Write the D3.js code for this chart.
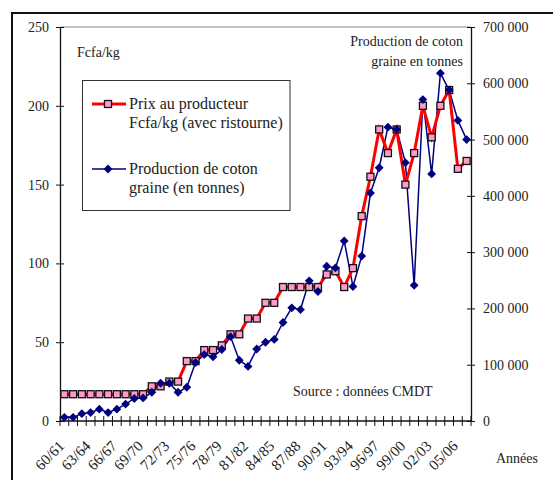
<!DOCTYPE html>
<html>
  <head>
    <title>Coton</title>
    <script src="https://d3js.org/d3.v7.min.js"></script>
    <style>
      body { margin: 0; background: white; }
      text { font-family: "Liberation Serif", "Times New Roman", serif; font-size: 14px; fill: #222; }
      .legend text { font-size: 16px; }
    </style>
  </head>
  <body>
    <svg id="main" width="553" height="480"></svg>
    <script>

      var years = ["60/61","61/62","62/63","63/64","64/65","65/66","66/67","67/68","68/69","69/70",
                   "70/71","71/72","72/73","73/74","74/75","75/76","76/77","77/78","78/79","79/80",
                   "80/81","81/82","82/83","83/84","84/85","85/86","86/87","87/88","88/89","89/90",
                   "90/91","91/92","92/93","93/94","94/95","95/96","96/97","97/98","98/99","99/00",
                   "00/01","01/02","02/03","03/04","04/05","05/06","06/07"];

      // prix au producteur, Fcfa/kg (avec ristourne)
      var prix = [17, 17, 17, 17, 17, 17, 17, 17, 17, 17,
                  22, 22, 25, 25, 38, 38, 45, 45, 48, 55,
                  55, 65, 65, 75, 75, 85, 85, 85, 85, 85,
                  93, 95, 85, 97, 130, 155, 185, 170, 185, 150,
                  170, 200, 180, 200, 210, 160, 165];

      // production de coton graine, tonnes
      var production = [6500, 6500, 13000, 15000, 21000, 15000, 21000, 30000, 40000, 41000,
                        51000, 67000, 67000, 51000, 60000, 104000, 118000, 114000, 127000, 150000,
                        108000, 97000, 128000, 140000, 145000, 175000, 201000, 198000, 249000, 230000,
                        275000, 272000, 320000, 239000, 293000, 405000, 450000, 522000, 518000, 459000,
                        241000, 571000, 439000, 618000, 588000, 534000, 500000];

      var leftTicks = [0, 50, 100, 150, 200, 250];
      var rightTicks = [0, 100000, 200000, 300000, 400000, 500000, 600000, 700000];

      var svg = d3.select("#main");
      var plotLeft = 60, plotRight = 471, plotTop = 27, plotBottom = 421;

      // cadre exterieur
      svg.append("rect")
        .attr("x", 12).attr("y", 13)
        .attr("width", 600).attr("height", 600)
        .attr("fill", "none")
        .attr("stroke", "#111")
        .attr("stroke-width", 2);

      var x = d3.scaleBand().domain(years).range([plotLeft, plotRight]);
      var yPrix = d3.scaleLinear().domain([0, 250]).range([plotBottom, plotTop]);
      var yProd = d3.scaleLinear().domain([0, 700000]).range([plotBottom, plotTop]);
      function cx(d, i) { return x(years[i]) + x.bandwidth() / 2; }

      // bord haut de la zone
      svg.append("line")
        .attr("x1", plotLeft).attr("x2", plotRight)
        .attr("y1", plotTop).attr("y2", plotTop)
        .attr("stroke", "#888").attr("stroke-width", 1);

      // axe gauche
      var gl = svg.append("g").attr("transform", "translate(" + plotLeft + ",0)")
        .call(d3.axisLeft(yPrix).tickValues(leftTicks).tickSize(0).tickPadding(11));
      gl.select(".domain").attr("stroke", "#111").attr("stroke-width", 1.3);
      gl.selectAll(".tick line").attr("x1", -4).attr("x2", 4).attr("stroke", "#111");
      gl.selectAll("text").style("font-size", "14px");

      // axe droit
      var gr = svg.append("g").attr("transform", "translate(" + plotRight + ",0)")
        .call(d3.axisRight(yProd).tickValues(rightTicks).tickSize(0).tickPadding(12)
          .tickFormat(function(d) { return d3.format(",")(d).replace(/,/g, " "); }));
      gr.select(".domain").attr("stroke", "#111").attr("stroke-width", 1.3);
      gr.selectAll(".tick line").attr("x1", -4).attr("x2", 4).attr("stroke", "#111");
      gr.selectAll("text").style("font-size", "14px");
      svg.selectAll(".tick text").style("font-family", "'Liberation Serif', serif").attr("fill", "#222");

      // axe des x
      svg.append("line")
        .attr("x1", plotLeft).attr("x2", plotRight)
        .attr("y1", plotBottom).attr("y2", plotBottom)
        .attr("stroke", "#111").attr("stroke-width", 1.3);
      var bounds = years.map(function(d) { return x(d); }).concat([plotRight]);
      svg.append("g").selectAll("line").data(bounds).enter().append("line")
        .attr("x1", function(d) { return d; }).attr("x2", function(d) { return d; })
        .attr("y1", plotBottom - 5).attr("y2", plotBottom + 5)
        .attr("stroke", "#111").attr("stroke-width", 1);
      svg.append("g").selectAll("text")
        .data(years.filter(function(d, i) { return i % 3 == 0; }))
        .enter().append("text")
        .attr("text-anchor", "end")
        .attr("transform", function(d) {
          return "translate(" + (x(d) + x.bandwidth() / 2 + 1) + "," + (plotBottom + 26) + ") rotate(-45)";
        })
        .style("font-size", "15px")
        .text(function(d) { return d; });

      svg.append("text").attr("x", 496).attr("y", 463).text("Années");
      svg.append("text").attr("x", 77).attr("y", 57).text("Fcfa/kg");
      svg.append("text").attr("x", 463).attr("y", 46).attr("text-anchor", "end").text("Production de coton");
      svg.append("text").attr("x", 463).attr("y", 66).attr("text-anchor", "end").text("graine en tonnes");
      svg.append("text").attr("x", 293).attr("y", 396).text("Source : données CMDT");

      // production
      var lineProd = d3.line().x(cx).y(function(d) { return yProd(d); });
      svg.append("path").datum(production)
        .attr("d", lineProd).attr("fill", "none")
        .attr("stroke", "#000080").attr("stroke-width", 1.5);

      // prix
      var linePrix = d3.line().x(cx).y(function(d) { return yPrix(d); });
      svg.append("path").datum(prix)
        .attr("d", linePrix).attr("fill", "none")
        .attr("stroke", "#ff0000").attr("stroke-width", 3);

      svg.append("g").selectAll("rect").data(prix).enter().append("rect")
        .attr("x", function(d, i) { return cx(d, i) - 3.5; })
        .attr("y", function(d) { return yPrix(d) - 3.5; })
        .attr("width", 7).attr("height", 7)
        .attr("fill", "#ff99cc").attr("stroke", "#111").attr("stroke-width", 1.3);

      var diamond = d3.symbol().type(d3.symbolDiamond2).size(50);
      svg.append("g").selectAll("path").data(production).enter().append("path")
        .attr("d", diamond)
        .attr("transform", function(d, i) { return "translate(" + cx(d, i) + "," + yProd(d) + ")"; })
        .attr("fill", "#000080");

      // legende
      var lg = svg.append("g").attr("class", "legend");
      lg.append("rect")
        .attr("x", 82.5).attr("y", 80.5).attr("width", 207.5).attr("height", 130)
        .attr("fill", "white").attr("stroke", "#333").attr("stroke-width", 1);
      lg.append("line").attr("x1", 92).attr("x2", 126).attr("y1", 104).attr("y2", 104)
        .attr("stroke", "#ff0000").attr("stroke-width", 3);
      lg.append("rect").attr("x", 104.5).attr("y", 100.5).attr("width", 7).attr("height", 7)
        .attr("fill", "#ff99cc").attr("stroke", "#111").attr("stroke-width", 1.3);
      lg.append("text").attr("x", 129).attr("y", 109).text("Prix au producteur");
      lg.append("text").attr("x", 129).attr("y", 128).text("Fcfa/kg (avec ristourne)");
      lg.append("line").attr("x1", 92).attr("x2", 126).attr("y1", 169).attr("y2", 169)
        .attr("stroke", "#000080").attr("stroke-width", 1.5);
      lg.append("path").attr("d", diamond).attr("transform", "translate(108,169)").attr("fill", "#000080");
      lg.append("text").attr("x", 129).attr("y", 174).text("Production de coton");
      lg.append("text").attr("x", 129).attr("y", 193).text("graine (en tonnes)");

    </script>
  </body>
</html>
